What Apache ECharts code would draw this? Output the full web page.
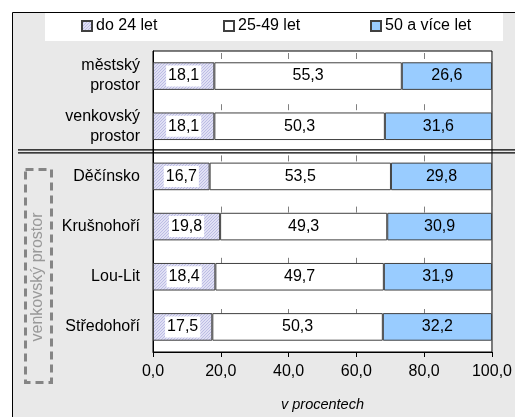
<!DOCTYPE html>
<html><head><meta charset="utf-8">
<script src="https://cdn.jsdelivr.net/npm/echarts@6/dist/echarts.min.js"></script>
<style>html,body{margin:0;padding:0;background:#fff}#c{width:515px;height:417px}</style>
</head><body><div id="c"></div>
<script>
const categories = ['městský\nprostor', 'venkovský\nprostor', 'Děčínsko', 'Krušnohoří', 'Lou-Lit', 'Středohoří'];
const seriesNames = ['do 24 let', '25-49 let', '50 a více let'];
const young = [18.1, 18.1, 16.7, 19.8, 18.4, 17.5];
const middle = [55.3, 50.3, 53.5, 49.3, 49.7, 50.3];
const old = [26.6, 31.6, 29.8, 30.9, 31.9, 32.2];
const groupLabel = 'venkovský prostor';
const axisTitle = 'v procentech';

const FONT = "'Liberation Sans', Arial, sans-serif";
const fmt = v => v.toFixed(1).replace('.', ',');

const pc = document.createElement('canvas');
pc.width = 3; pc.height = 3;
const g = pc.getContext('2d');
g.fillStyle = '#e0e0f4'; g.fillRect(0, 0, 3, 3);
g.fillStyle = '#bcbce4';
g.fillRect(2, 0, 1, 1); g.fillRect(1, 1, 1, 1); g.fillRect(0, 2, 1, 1);
const hatch = { image: pc, repeat: 'repeat' };

const chart = echarts.init(document.getElementById('c'), null, { renderer: 'canvas' });
const border = { borderColor: '#404040', borderWidth: 1 };
const legendBase = { top: 18, padding: 0, itemWidth: 10, itemHeight: 10, icon: 'rect', itemGap: 4,
  textStyle: { fontFamily: FONT, fontSize: 16, color: '#000', padding: [0, 0, 0, -1] } };

const option = {
  animation: false,
  textStyle: { fontFamily: FONT },
  grid: { left: 153, right: 18, top: 51, bottom: 59, show: true, backgroundColor: '#fff', borderColor: '#000', borderWidth: 1 },
  legend: [
    Object.assign({}, legendBase, { left: 81, data: [seriesNames[0]] }),
    Object.assign({}, legendBase, { left: 223, data: [seriesNames[1]] }),
    Object.assign({}, legendBase, { left: 370, data: [seriesNames[2]] })
  ],
  xAxis: {
    type: 'value', min: 0, max: 100, interval: 20,
    axisLine: { show: true, lineStyle: { color: '#000', width: 1 } },
    axisTick: { show: true, length: 5, lineStyle: { color: '#000' } },
    axisLabel: { fontSize: 16, color: '#000', margin: 12, formatter: v => fmt(v), fontFamily: FONT },
    splitLine: { show: true, lineStyle: { color: '#808080', width: 1, type: [6, 45.2], dashOffset: 49.2 } },
    name: axisTitle, nameLocation: 'middle', nameGap: 45,
    nameTextStyle: { fontSize: 14.5, fontStyle: 'italic', color: '#000', fontFamily: FONT }
  },
  yAxis: {
    type: 'category', data: categories, inverse: true,
    axisLine: { show: true, lineStyle: { color: '#000', width: 1 } },
    axisTick: { show: false },
    axisLabel: { fontSize: 16, color: '#000', margin: 13, lineHeight: 20, align: 'right', fontFamily: FONT }
  },
  series: [
    { name: seriesNames[0], type: 'bar', stack: 'all', barWidth: '55%', data: young,
      itemStyle: Object.assign({ color: hatch }, border),
      label: { show: true, position: 'inside', color: '#000', fontSize: 16, fontFamily: FONT,
        backgroundColor: '#fff', padding: [3, 2, 2, 2], formatter: p => fmt(p.value) } },
    { name: seriesNames[1], type: 'bar', stack: 'all', barWidth: '55%', data: middle,
      itemStyle: Object.assign({ color: '#ffffff' }, border),
      label: { show: true, position: 'inside', color: '#000', fontSize: 16, fontFamily: FONT, formatter: p => fmt(p.value) } },
    { name: seriesNames[2], type: 'bar', stack: 'all', barWidth: '55%', data: old,
      itemStyle: Object.assign({ color: '#99ccff' }, border),
      label: { show: true, position: 'inside', color: '#000', fontSize: 16, fontFamily: FONT, formatter: p => fmt(p.value) } }
  ]
};
chart.setOption(option);

const y1 = chart.convertToPixel({ yAxisIndex: 0 }, categories[1]);
const y2 = chart.convertToPixel({ yAxisIndex: 0 }, categories[2]);
const sep = (y1 + y2) / 2;

chart.setOption({
  graphic: [
    { type: 'rect', z: -10, silent: true, shape: { x: 12.5, y: 12.5, width: 700, height: 700 },
      style: { fill: '#e9e9e9', stroke: '#000', lineWidth: 1 } },
    { type: 'rect', z: -5, silent: true, shape: { x: 45, y: 13, width: 458, height: 28 },
      style: { fill: '#fff' } },
    { type: 'line', z: 100, silent: true, shape: { x1: 18, y1: sep - 1.5, x2: 515, y2: sep - 1.5 },
      style: { stroke: '#000', lineWidth: 1.3 } },
    { type: 'line', z: 100, silent: true, shape: { x1: 18, y1: sep + 1.5, x2: 515, y2: sep + 1.5 },
      style: { stroke: '#000', lineWidth: 1.3 } },
    { type: 'rect', silent: true, shape: { x: 25.5, y: 169.5, width: 26, height: 213 },
      style: { fill: null, stroke: '#858585', lineWidth: 3, lineDash: [8, 5] } },
    { type: 'text', silent: true, x: 38, y: 277, rotation: Math.PI / 2,
      style: { text: groupLabel, fill: '#999', font: "16px 'Liberation Sans', Arial, sans-serif",
        textAlign: 'center', textVerticalAlign: 'middle' } }
  ]
});
</script></body></html>
